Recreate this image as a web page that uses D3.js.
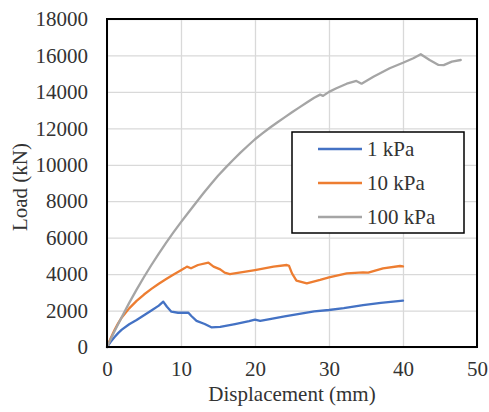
<!DOCTYPE html>
<html>
<head>
<meta charset="utf-8">
<script src="https://cdn.jsdelivr.net/npm/d3@7"></script>
<style>
  html, body { margin: 0; padding: 0; background: #fff; }
  svg text { font-family: "Liberation Serif", "Times New Roman", serif; fill: #333; }
</style>
</head>
<body>
<svg id="chart" width="489" height="412"></svg>
<script>
// Load–displacement curves for three confining pressures
const seriesNames = ["1 kPa", "10 kPa", "100 kPa"];
const seriesColors = ["#4472C4", "#ED7D31", "#A5A5A5"];

const disp1 = [0, 0.5, 1, 1.5, 2, 3, 4, 5, 6, 7, 7.6, 8.1, 8.7, 9.6, 11, 11.4, 12.1, 13.2, 14.1, 15.3, 17.3, 19.2, 20, 20.7, 22, 24, 26, 28, 30, 32, 34.6, 37, 40];
const load1 = [0, 290, 540, 760, 950, 1250, 1480, 1740, 2000, 2270, 2490, 2210, 1940, 1880, 1880, 1700, 1430, 1260, 1080, 1110, 1260, 1420, 1500, 1430, 1530, 1680, 1820, 1950, 2030, 2130, 2300, 2420, 2540];

const disp10 = [0, 0.5, 1, 1.5, 2, 3, 4, 5, 6, 7, 8, 9, 10, 10.5, 10.8, 11.35, 12.3, 13.7, 14.4, 15.3, 15.9, 16.6, 20, 22.5, 24.3, 24.6, 25, 25.6, 27, 28.8, 30, 32.4, 34.6, 35.3, 37.3, 39.6, 40];
const load10 = [0, 480, 920, 1300, 1620, 2120, 2530, 2880, 3190, 3470, 3730, 3980, 4210, 4330, 4410, 4320, 4500, 4630, 4410, 4260, 4080, 4000, 4225, 4410, 4500, 4450, 4040, 3640, 3490, 3680, 3825, 4040, 4100, 4080, 4320, 4445, 4420];

const disp100 = [0, 1, 2, 3, 4, 5, 6, 7, 8, 9, 10, 11, 12, 13, 14, 15, 16, 17, 18, 19, 20, 21, 22, 23, 24, 25, 26, 27, 28, 28.8, 29.2, 30, 31, 32.4, 33.7, 34.4, 36, 38.2, 40, 41.4, 42.4, 43.6, 44.8, 45.5, 46.6, 47.8];
const load100 = [0, 850, 1650, 2420, 3150, 3840, 4500, 5130, 5730, 6300, 6850, 7380, 7900, 8420, 8920, 9400, 9830, 10250, 10650, 11030, 11400, 11720, 12030, 12320, 12600, 12880, 13150, 13420, 13680, 13850, 13780, 14000, 14200, 14450, 14600, 14450, 14830, 15300, 15600, 15850, 16070, 15750, 15480, 15470, 15660, 15750];

const xTicks = [0, 10, 20, 30, 40, 50];
const yTicks = [0, 2000, 4000, 6000, 8000, 10000, 12000, 14000, 16000, 18000];

const xTitle = "Displacement (mm)";
const yTitle = "Load (kN)";

const series = [
  { name: seriesNames[0], color: seriesColors[0], x: disp1, y: load1 },
  { name: seriesNames[1], color: seriesColors[1], x: disp10, y: load10 },
  { name: seriesNames[2], color: seriesColors[2], x: disp100, y: load100 }
];

const svg = d3.select("#chart");
const plot = { left: 107, right: 477, top: 19, bottom: 347 };

const x = d3.scaleLinear().domain([0, 50]).range([plot.left, plot.right]);
const y = d3.scaleLinear().domain([0, 18000]).range([plot.bottom, plot.top]);

// gridlines
svg.append("g")
  .attr("transform", `translate(0,${plot.bottom})`)
  .call(d3.axisBottom(x).tickValues(xTicks).tickSize(-(plot.bottom - plot.top)).tickFormat(""))
  .call(g => g.select(".domain").remove())
  .call(g => g.selectAll("line").attr("stroke", "#D9D9D9").attr("stroke-width", 1.3));

svg.append("g")
  .attr("transform", `translate(${plot.left},0)`)
  .call(d3.axisLeft(y).tickValues(yTicks).tickSize(-(plot.right - plot.left)).tickFormat(""))
  .call(g => g.select(".domain").remove())
  .call(g => g.selectAll("line").attr("stroke", "#D9D9D9").attr("stroke-width", 1.3));

// tick labels
const xAxis = svg.append("g")
  .attr("transform", `translate(0,${plot.bottom})`)
  .call(d3.axisBottom(x).tickValues(xTicks).tickSize(0).tickPadding(14).tickFormat(d3.format("d")));
xAxis.attr("font-family", null).select(".domain").remove();
xAxis.selectAll("text").attr("font-size", 21).attr("fill", "#333");

const yAxis = svg.append("g")
  .attr("transform", `translate(${plot.left},0)`)
  .call(d3.axisLeft(y).tickValues(yTicks).tickSize(0).tickPadding(19).tickFormat(d3.format("d")));
yAxis.attr("font-family", null).select(".domain").remove();
yAxis.selectAll("text").attr("font-size", 21).attr("fill", "#333");

// curves
const line = d3.line().x(d => x(d[0])).y(d => y(d[1]));
svg.append("g").selectAll("path")
  .data(series)
  .join("path")
  .attr("d", s => line(s.x.map((v, i) => [v, s.y[i]])))
  .attr("fill", "none")
  .attr("stroke", s => s.color)
  .attr("stroke-width", 2.3)
  .attr("stroke-linejoin", "round")
  .attr("stroke-linecap", "round");

// plot frame
svg.append("rect")
  .attr("x", plot.left).attr("y", plot.top)
  .attr("width", plot.right - plot.left).attr("height", plot.bottom - plot.top)
  .attr("fill", "none").attr("stroke", "#000").attr("stroke-width", 2);

// axis titles
svg.append("text")
  .attr("x", (plot.left + plot.right) / 2).attr("y", 401)
  .attr("text-anchor", "middle").attr("font-size", 21)
  .text(xTitle);

svg.append("text")
  .attr("transform", `translate(27,${(plot.top + plot.bottom) / 2 + 4}) rotate(-90)`)
  .attr("text-anchor", "middle").attr("font-size", 21)
  .text(yTitle);

// legend
const legend = svg.append("g");
legend.append("rect")
  .attr("x", 292).attr("y", 132).attr("width", 172).attr("height", 101)
  .attr("fill", "#fff").attr("stroke", "#000").attr("stroke-width", 1.5);

const items = legend.selectAll("g.item")
  .data(series)
  .join("g")
  .attr("class", "item")
  .attr("transform", (d, i) => `translate(0,${149 + i * 34})`);
items.append("line")
  .attr("x1", 318).attr("x2", 362)
  .attr("stroke", d => d.color).attr("stroke-width", 2.3);
items.append("text")
  .attr("x", 367).attr("dy", "0.35em").attr("font-size", 21)
  .text(d => d.name);
</script>
</body>
</html>
